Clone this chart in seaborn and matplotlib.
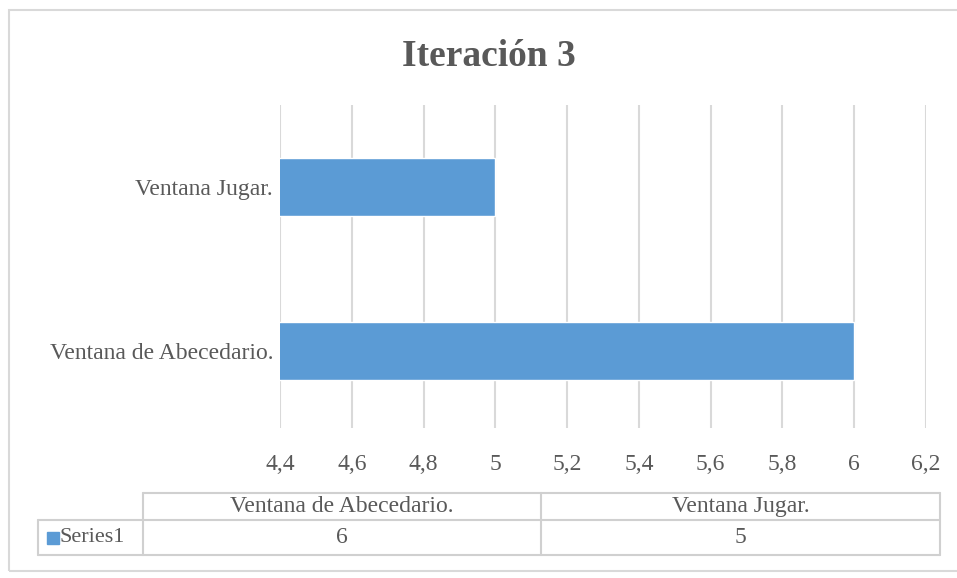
import numpy as np
import pandas as pd
import matplotlib
matplotlib.use('Agg')
import matplotlib.pyplot as plt
import seaborn as sns
from matplotlib.lines import Line2D
from matplotlib.patches import Rectangle

#%% data
categories = ['Ventana de Abecedario.', 'Ventana Jugar.']
values = [6, 5]
series_name = 'Series1'
title = 'Iteración 3'
xticks = [4.4, 4.6, 4.8, 5.0, 5.2, 5.4, 5.6, 5.8, 6.0, 6.2]

df = pd.DataFrame({'categoria': categories, 'valor': values})

#%% style
sns.set_theme(style='white')
plt.rcParams['font.family'] = ['Liberation Serif', 'DejaVu Serif']
txtcol = '#595959'
gridcol = '#d9d9d9'
barcol = '#5b9bd5'
fs = 17

fig = plt.figure(figsize=(9.57, 5.78), dpi=100)
ax = fig.add_axes([0.2926, 0.2595, 0.675, 0.5588])

# bars start at the axis minimum (4.4)
sns.barplot(data=df, y='categoria', x='valor', order=categories[::-1],
            color=barcol, width=0.355, saturation=1, ax=ax, orient='h')
ax.set_xlim(xticks[0], xticks[-1])
ax.set_ylim(1.47, -0.5)
ax.set_xticks(xticks)
ax.set_xticklabels([('%g' % t).replace('.', ',') for t in xticks])
ax.xaxis.grid(True, color=gridcol, linewidth=1.5)
ax.set_axisbelow(True)
for s in ax.spines.values():
    s.set_visible(False)
ax.tick_params(axis='both', length=0, labelsize=fs, labelcolor=txtcol)
ax.tick_params(axis='x', pad=19)
ax.tick_params(axis='y', pad=5)
ax.set_xlabel('')
ax.set_ylabel('')
fig.text(0.511, 0.903, title, ha='center', va='center', fontsize=27,
         fontweight='bold', color=txtcol)

#%% data table below the chart
W, H = 957, 578
def fx(px): return px / W
def fy(py): return 1 - py / H

tcol = '#d0d0d0'
x0, x1, x2, x3 = 38, 143, 541, 940
y0, y1, y2 = 493, 520, 555
lines = [((x1, y0), (x3, y0)), ((x0, y1), (x3, y1)), ((x0, y2), (x3, y2)),
         ((x0, y1), (x0, y2)), ((x1, y0), (x1, y2)), ((x2, y0), (x2, y2)),
         ((x3, y0), (x3, y2))]
for (a, b) in lines:
    fig.add_artist(Line2D([fx(a[0]), fx(b[0])], [fy(a[1]), fy(b[1])],
                          color=tcol, linewidth=1.5))
cols = [(x1 + x2) / 2, (x2 + x3) / 2]
for cx, cat, val in zip(cols, categories, values):
    fig.text(fx(cx), fy((y0 + y1) / 2), cat, ha='center', va='center',
             fontsize=fs, color=txtcol)
    fig.text(fx(cx), fy((y1 + y2) / 2), '%g' % val, ha='center', va='center',
             fontsize=fs, color=txtcol)
fig.add_artist(Rectangle((fx(47), fy(544)), fx(12), 12 / H, color=barcol))
fig.text(fx(60), fy((y1 + y2) / 2), series_name, ha='left', va='center',
         fontsize=fs - 1, color=txtcol)

# outer chart border
fig.add_artist(Rectangle((fx(9), fy(571)), fx(960 - 9), 561 / H, fill=False,
                         edgecolor=gridcol, linewidth=1.5))

fig.savefig('out.png', dpi=100)
